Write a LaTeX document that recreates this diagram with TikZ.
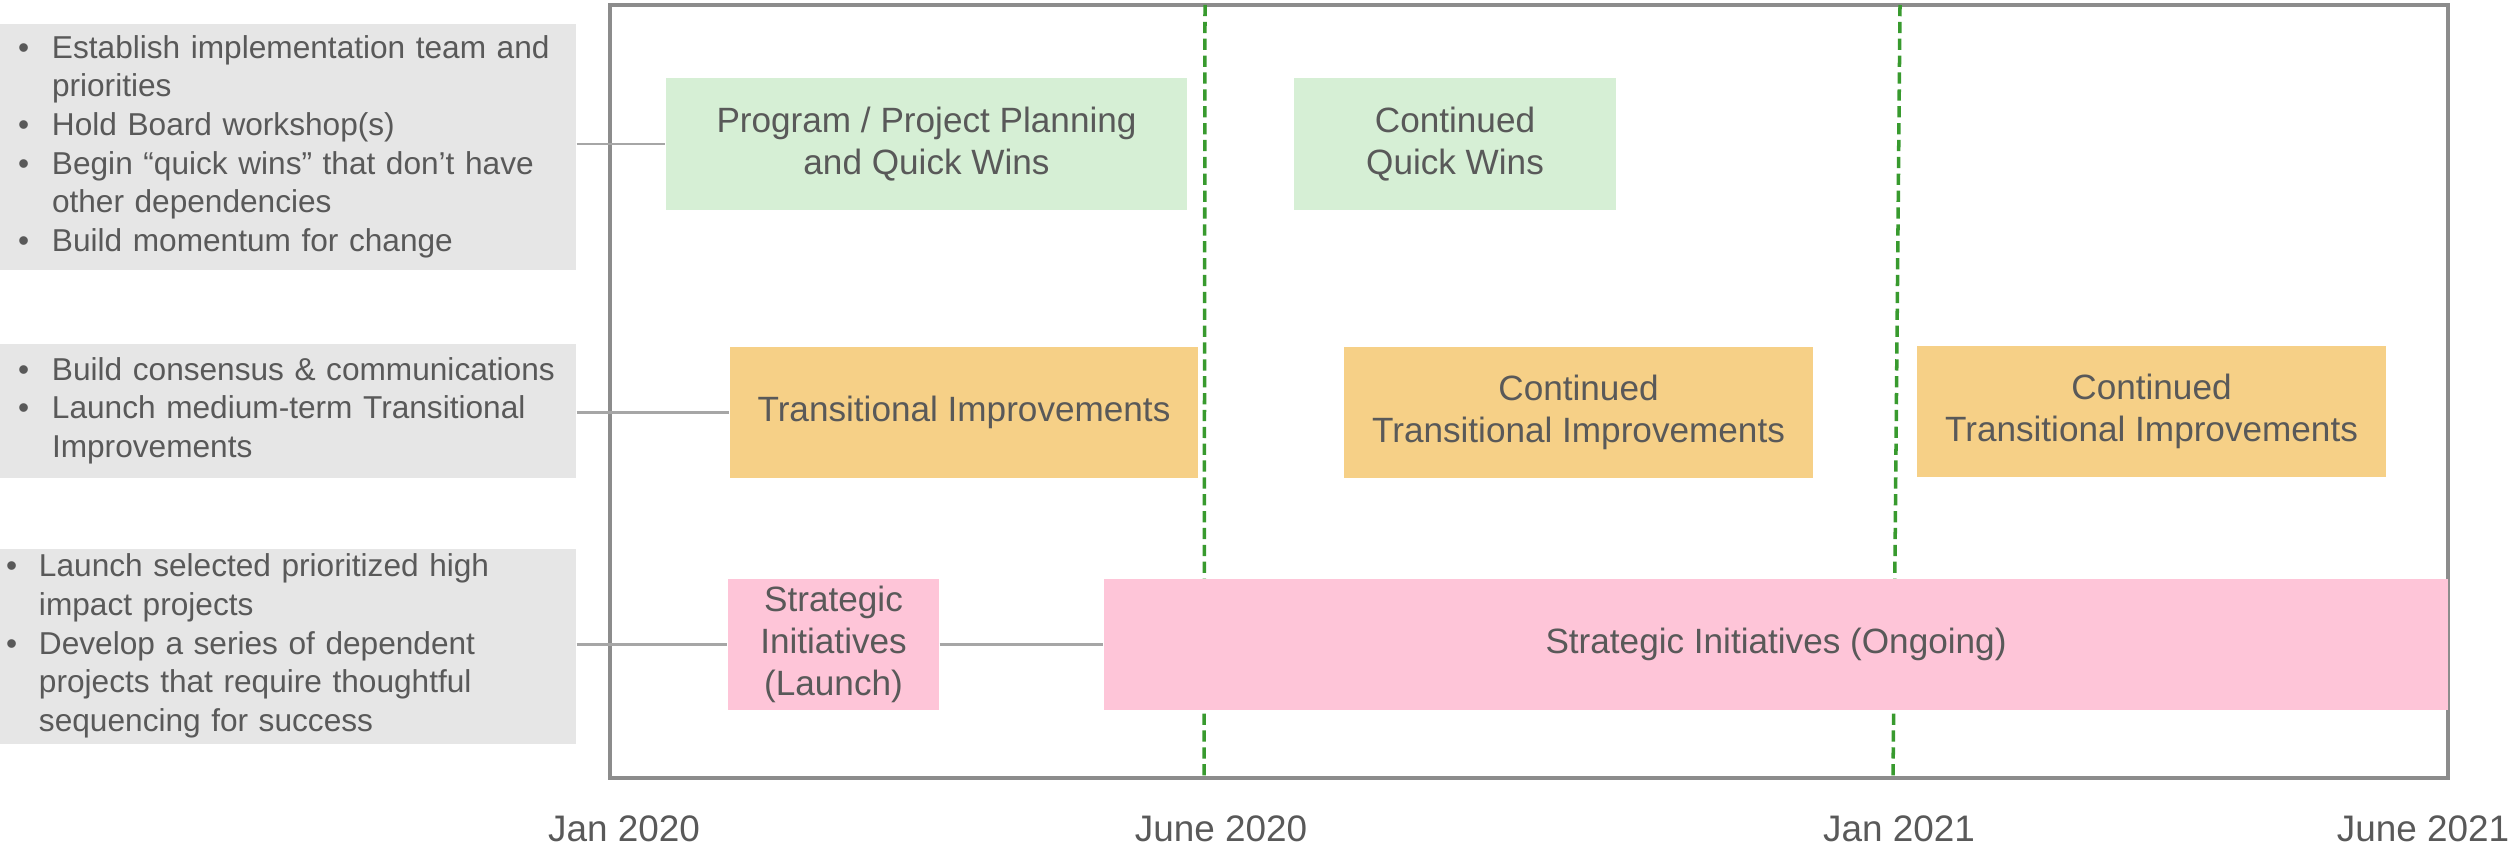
\documentclass[tikz,border=0pt]{standalone}
\usepackage{fontspec}
\setmainfont{Liberation Sans}
\usetikzlibrary{positioning}
\definecolor{txt}{HTML}{595959}
\definecolor{notegray}{HTML}{E6E6E6}
\definecolor{qwgreen}{HTML}{D6EFD5}
\definecolor{tiorange}{HTML}{F6D087}
\definecolor{sipink}{HTML}{FEC5D8}
\definecolor{framegray}{HTML}{8C8C8C}
\definecolor{linkgray}{HTML}{A6A6A6}
\definecolor{marker}{HTML}{389A2E}
\newcommand{\bul}{\textbullet}
\tikzset{
  bar/.style={fill=#1, text=txt, align=center, inner sep=0pt,
    font=\fontsize{10}{12}\selectfont},
  note/.style={fill=notegray, text=txt, align=left, inner ysep=0pt,
    minimum width=5.76cm, font=\fontsize{9}{11}\selectfont},
  link/.style={draw=linkgray, line width=0.8pt},
  milestone/.style={draw=marker, line width=1pt, dash pattern=on 3.2pt off 1.6pt},
  datelabel/.style={text=txt, inner sep=0pt, font=\fontsize{10.5}{12}\selectfont}
}
\begin{document}
\begin{tikzpicture}
\useasboundingbox (0,0) rectangle (25.09,-8.46);
% timeline frame and milestones
\draw[framegray, line width=1pt] (6.10,-0.05) rectangle (24.48,-7.78);
\coordinate (jun-top) at (12.05,-0.05);
\coordinate (jun-bot) at (12.04,-7.78);
\coordinate (jan-top) at (19.00,-0.05);
\coordinate (jan-bot) at (18.93,-7.78);
\draw[milestone] (jun-top) -- (jun-bot);
\draw[milestone] (jan-top) -- (jan-bot);
% notes on the left
\node[note, minimum height=2.46cm, text width=5.40cm, inner xsep=0.18cm] (note1) at (2.88,-1.47)
  {\begin{tabular}{@{}p{0.34cm}@{}l@{}}
   \bul & Establish implementation team and\\
        & priorities\\
   \bul & Hold Board workshop(s)\\
   \bul & Begin “quick wins” that don’t have\\
        & other dependencies\\
   \bul & Build momentum for change
   \end{tabular}};
\node[note, minimum height=1.34cm, text width=5.40cm, inner xsep=0.18cm] (note2) at (2.88,-4.11)
  {\begin{tabular}{@{}p{0.34cm}@{}l@{}}
   \bul & Build consensus \& communications\\
   \bul & Launch medium-term Transitional\\
        & Improvements
   \end{tabular}};
\node[note, minimum height=1.95cm, text width=5.64cm, inner xsep=0.06cm] (note3) at (2.88,-6.465)
  {\begin{tabular}{@{}p{0.33cm}@{}l@{}}
   \bul & Launch selected prioritized high\\
        & impact projects\\
   \bul & Develop a series of dependent\\
        & projects that require thoughtful\\
        & sequencing for success
   \end{tabular}};
% bars
\node[bar=qwgreen, minimum width=5.21cm, minimum height=1.32cm] (plan) at (9.265,-1.44)
  {Program / Project Planning\\and Quick Wins};
\node[bar=qwgreen, minimum width=3.22cm, minimum height=1.32cm] (quick) at (14.55,-1.44)
  {Continued\\Quick Wins};
\node[bar=tiorange, minimum width=4.68cm, minimum height=1.31cm] (trans) at (9.64,-4.125)
  {Transitional Improvements};
\node[bar=tiorange, minimum width=4.69cm, minimum height=1.31cm] (trans2) at (15.785,-4.125)
  {Continued\\Transitional Improvements};
\node[bar=tiorange, minimum width=4.69cm, minimum height=1.31cm] (trans3) at (21.515,-4.115)
  {Continued\\Transitional Improvements};
\node[bar=sipink, minimum width=2.11cm, minimum height=1.31cm] (launch) at (8.335,-6.445)
  {Strategic\\Initiatives\\(Launch)};
\node[bar=sipink, minimum width=13.44cm, minimum height=1.31cm] (ongoing) at (17.76,-6.445)
  {Strategic Initiatives (Ongoing)};
% links
\draw[link] (note1.east |- plan.west) -- (plan.west);
\draw[link] (note2.east |- trans.west) -- (trans.west);
\draw[link] (note3.east |- launch.west) -- (launch.west);
\draw[link] (launch.east) -- (ongoing.west);
% dates
\node[datelabel] (d1) at (6.24,-8.29) {Jan 2020};
\node[datelabel] (d2) at (12.21,-8.29) {June 2020};
\node[datelabel] (d3) at (18.99,-8.29) {Jan 2021};
\node[datelabel] (d4) at (24.23,-8.29) {June 2021};
\end{tikzpicture}
\end{document}
